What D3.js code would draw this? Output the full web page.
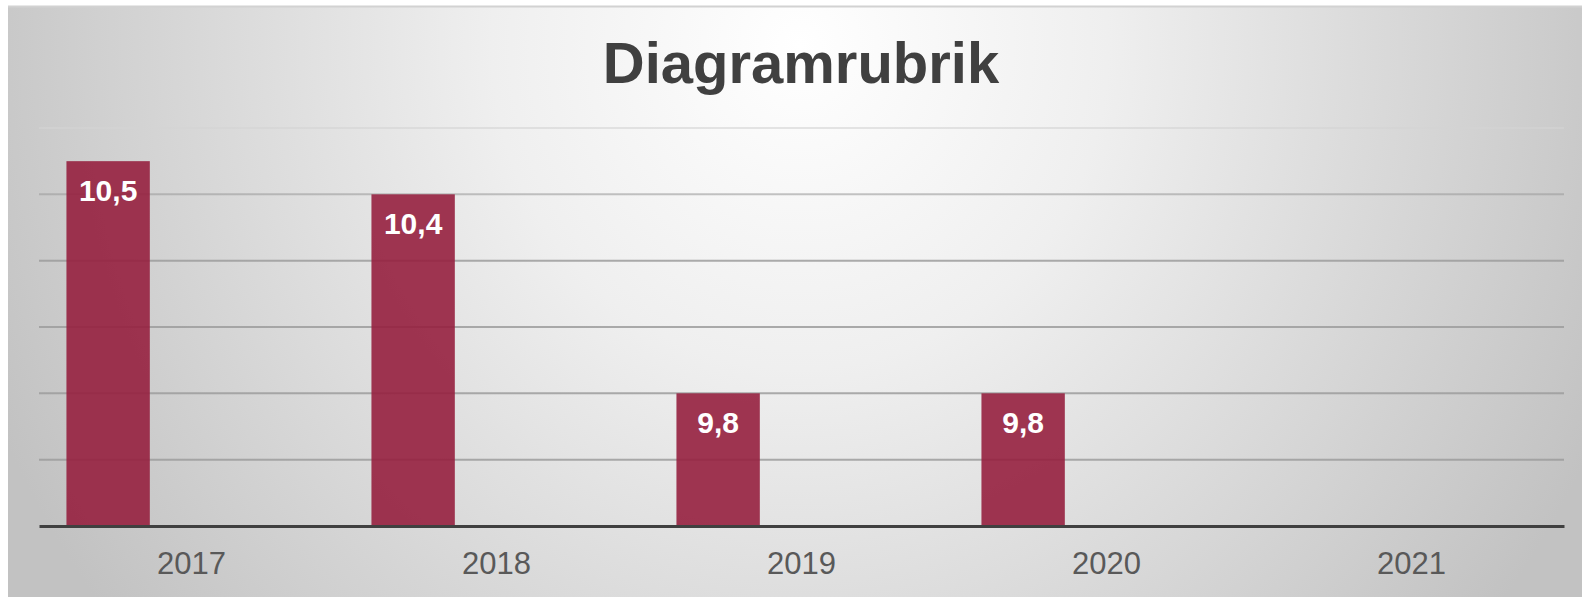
<!DOCTYPE html>
<html lang="de">
<head>
    <meta charset="UTF-8">
    <title>Diagramrubrik</title>
    <style>
        body {
            margin: 0;
            background: #ffffff;
        }
    </style>
</head>
<body>
<div id="chart"></div>
<script src="https://d3js.org/d3.v7.min.js"></script>
<script>
    // data
    const years = ["2017", "2018", "2019", "2020", "2021"];
    const values = [10.5, 10.4, 9.8, 9.8, null];
    const seriesSlots = [0, 1, 2]; // clustered chart, only the first series has values
    const yTicks = [9.4, 9.6, 9.8, 10.0, 10.2, 10.4, 10.6];

    const W = 1582, H = 597;
    const margin = {top: 128, right: 18, bottom: 71, left: 39};
    const innerW = W - margin.left - margin.right,
        innerH = H - margin.top - margin.bottom;
    const font = "'Liberation Sans', Arial, Helvetica, sans-serif";

    const svg = d3.select("#chart")
        .append("svg")
        .attr("width", W)
        .attr("height", H)
        .style("display", "block");

    // background gradient
    const defs = svg.append("defs");
    const grad = defs.append("radialGradient")
        .attr("id", "bg")
        .attr("gradientUnits", "userSpaceOnUse")
        .attr("cx", 800).attr("cy", 45).attr("r", 880)
        .attr("gradientTransform", "translate(800,45) scale(1,1.05) translate(-800,-45)");
    grad.append("stop").attr("offset", "0").attr("stop-color", "#ffffff");
    grad.append("stop").attr("offset", "0.35").attr("stop-color", "#efefef");
    grad.append("stop").attr("offset", "1").attr("stop-color", "#c2c2c2");

    svg.append("rect")
        .attr("x", 8).attr("y", 6)
        .attr("width", W - 8).attr("height", H - 6)
        .attr("fill", "url(#bg)");
    svg.append("line")
        .attr("x1", 8).attr("x2", W)
        .attr("y1", 6.5).attr("y2", 6.5)
        .attr("stroke", "#d2d2d2").attr("stroke-width", 2);

    // title
    svg.append("text")
        .attr("x", 801).attr("y", 83)
        .attr("text-anchor", "middle")
        .style("font-family", font)
        .style("font-weight", "bold")
        .style("font-size", "58px")
        .style("fill", "#404040")
        .text("Diagramrubrik");

    const g = svg.append("g")
        .attr("transform", `translate(${margin.left},${margin.top})`);

    const x = d3.scaleBand()
        .domain(years)
        .range([0, innerW])
        .padding(0);

    const gap = x.bandwidth() * 0.18;
    const xs = d3.scaleBand()
        .domain(seriesSlots)
        .range([gap / 2, x.bandwidth() - gap / 2])
        .padding(0);

    const y = d3.scaleLinear()
        .domain([9.4, 10.6])
        .range([innerH, 0]);

    // gridlines
    g.selectAll(".grid")
        .data(yTicks.slice(1))
        .join("line")
        .attr("class", "grid")
        .attr("x1", 0).attr("x2", innerW)
        .attr("y1", d => y(d)).attr("y2", d => y(d))
        .attr("stroke", (d, i) => i === yTicks.length - 2 ? "#d4d4d4" : "#9c9c9c")
        .attr("stroke-opacity", (d, i) => i >= 4 ? 0.6 : 0.85)
        .attr("stroke-width", 2);

    const data = years.map((yr, i) => ({year: yr, value: values[i]}))
        .filter(d => d.value != null);

    // bars
    g.selectAll(".bar")
        .data(data)
        .join("rect")
        .attr("class", "bar")
        .attr("x", d => x(d.year) + xs(0))
        .attr("width", xs.bandwidth())
        .attr("y", d => y(d.value))
        .attr("height", d => innerH - y(d.value))
        .attr("fill", "#96203f")
        .attr("fill-opacity", 0.9);

    // labels
    const fmt = v => d3.format(".1f")(v).replace(".", ",");
    g.selectAll(".lbl")
        .data(data)
        .join("text")
        .attr("class", "lbl")
        .attr("x", d => x(d.year) + xs(0) + xs.bandwidth() / 2)
        .attr("y", d => y(d.value) + 40)
        .attr("text-anchor", "middle")
        .style("font-family", font)
        .style("font-weight", "bold")
        .style("font-size", "30px")
        .style("fill", "#ffffff")
        .text(d => fmt(d.value));

    // x axis
    const xAxis = g.append("g")
        .attr("transform", `translate(0,${innerH})`)
        .call(d3.axisBottom(x).tickSize(0).tickPadding(26));
    xAxis.select(".domain")
        .attr("stroke", "#404040")
        .attr("stroke-width", 3);
    xAxis.selectAll("text")
        .style("font-family", font)
        .style("font-size", "31px")
        .style("fill", "#595959");
</script>
</body>
</html>
